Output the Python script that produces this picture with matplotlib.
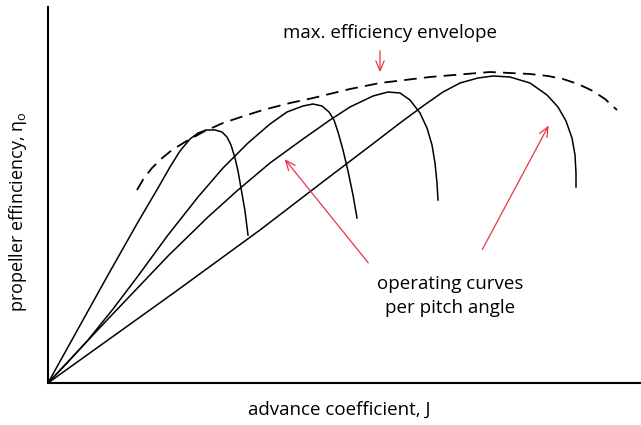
import matplotlib
matplotlib.use('Agg')
import matplotlib.pyplot as plt

plt.rcParams['font.family'] = ['Open Sans', 'DejaVu Sans']
plt.rcParams['mathtext.fontset'] = 'custom'
plt.rcParams['mathtext.rm'] = 'Open Sans'
plt.rcParams['mathtext.it'] = 'Open Sans'

# operating curves, one per pitch angle (J, eta) in arbitrary units
j1 = [0, 30, 60, 90, 110, 122, 132, 142, 150, 158, 167, 174, 179, 183, 187, 190, 193, 197, 200]
eta1 = [0, 54, 108, 161, 195, 216, 232, 244, 250, 253, 253, 251, 246, 238, 225, 212, 195, 172, 148]

j2 = [0, 20, 40, 65, 90, 120, 150, 175, 200, 222, 239, 255, 265, 274, 281, 286, 290, 295, 300, 305, 309]
eta2 = [0, 21, 43, 74, 107, 148, 186, 215, 240, 259, 271, 277, 279, 277, 271, 263, 251, 233, 212, 188, 165]

j3 = [0, 60, 120, 160, 190, 222, 255, 282, 302, 325, 340, 352, 362, 372, 379, 384, 387, 389, 390]
eta3 = [0, 64, 127, 166, 193, 220, 244, 263, 276, 287, 291, 290, 283, 270, 255, 238, 220, 200, 183]

j4 = [0, 127, 212, 272, 322, 352, 375, 395, 412, 430, 445, 462, 482, 499, 510, 518, 524, 527, 528, 528]
eta4 = [0, 91, 153, 199, 237, 260, 277, 291, 300, 305, 307, 306, 300, 288, 276, 262, 245, 228, 210, 196]

# max. efficiency envelope
j_env = [89, 96, 104, 113, 124, 137, 155, 175, 199, 215, 242, 265, 302, 332, 382, 442,
         482, 500, 515, 530, 545, 557, 569]
eta_env = [193, 205, 215, 224, 233, 241, 251, 260, 268, 273, 280, 285, 294, 300, 306, 311,
           309, 307, 304, 299, 292, 284, 273]

red = '#e8344a'

fig = plt.figure(figsize=(6.41, 4.25), dpi=100)
ax = fig.add_axes([48 / 641, 42 / 425, 593 / 641, 376 / 425])

for j, eta in [(j1, eta1), (j2, eta2), (j3, eta3), (j4, eta4)]:
    ax.plot(j, eta, color='black', lw=1.1, solid_joinstyle='round')

ax.plot(j_env, eta_env, color='black', lw=1.3, dashes=(7, 4))

ax.set_xlim(0, 593)
ax.set_ylim(0, 376)
ax.set_xticks([])
ax.set_yticks([])
for s in ['top', 'right']:
    ax.spines[s].set_visible(False)
for s in ['left', 'bottom']:
    ax.spines[s].set_linewidth(1.5)

arrow = dict(arrowstyle='->,head_length=0.7,head_width=0.3', color=red, lw=0.9)
ax.annotate('', xy=(332, 308), xytext=(332, 335), arrowprops=arrow)
ax.annotate('', xy=(235, 226), xytext=(322, 118), arrowprops=arrow)
ax.annotate('', xy=(502, 260), xytext=(433, 131), arrowprops=arrow)

ax.text(342, 350, 'max. efficiency envelope', ha='center', va='center', fontsize=13.5)
ax.text(402, 87, 'operating curves\nper pitch angle', ha='center', va='center',
        fontsize=13.5, linespacing=1.45)

fig.text(0.53, 0.035, 'advance coefficient, J', ha='center', va='center', fontsize=13.5)
fig.text(0.028, 0.503, r'propeller effinciency, η$_{\rm o}$', ha='center', va='center',
         rotation=90, fontsize=13)

fig.savefig('out.png', dpi=100)
